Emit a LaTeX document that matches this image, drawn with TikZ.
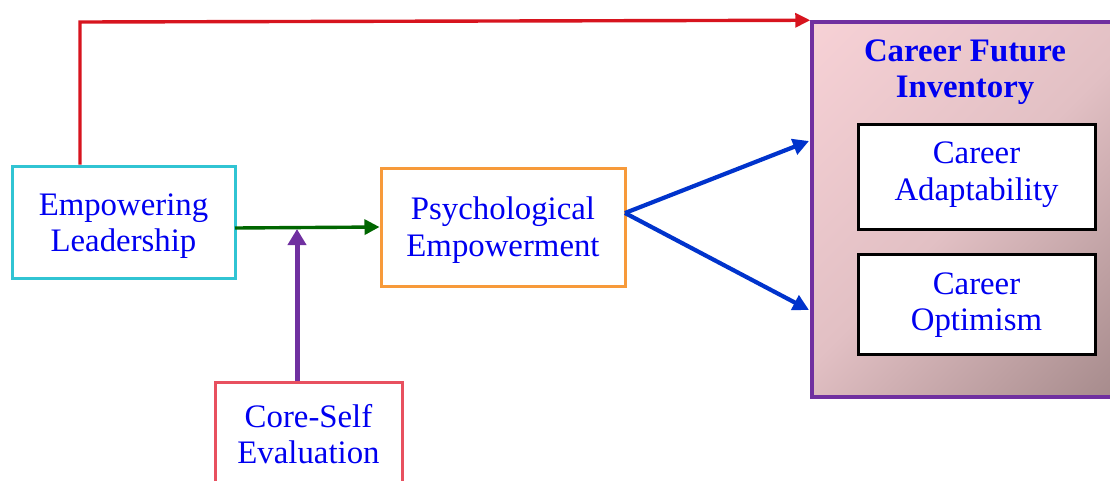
\documentclass[tikz,border=0pt]{standalone}
\usepackage{fontspec}
\setmainfont{Liberation Serif}
\usetikzlibrary{arrows.meta,calc}
\definecolor{txtblue}{HTML}{0000F0}
\definecolor{cyanb}{HTML}{31C4D3}
\definecolor{orangeb}{HTML}{F79A3A}
\definecolor{pinkb}{HTML}{E8505F}
\definecolor{redl}{HTML}{D7141E}
\definecolor{greenl}{HTML}{006600}
\definecolor{purplel}{HTML}{7030A0}
\definecolor{bluel}{HTML}{0033CC}
\definecolor{shadeA}{HTML}{FFD8DD}
\definecolor{shadeB}{HTML}{E2C0C4}
\definecolor{shadeC}{HTML}{917878}
\pgfdeclareverticalshading{cfishade}{100bp}{color(0bp)=(shadeC); color(12bp)=(shadeC!80!shadeB); color(50bp)=(shadeB); color(100bp)=(shadeA)}
\begin{document}
\begin{tikzpicture}[x=1pt,y=-1pt,
  lbl/.style={font=\fontsize{32.8}{36.5}\selectfont, text=txtblue, align=center, inner sep=0pt},
  box/.style={draw, fill=white, line width=3pt, inner sep=0pt},
  conn/.style={line width=3.4pt}]
\useasboundingbox (0,0) rectangle (1110,480);
% big box
\node[inner sep=0pt, minimum width=306pt, minimum height=375pt, shading=cfishade, shading angle=45, draw=purplel, line width=3.5pt] (CFI) at (965,209.5) {};
\node[lbl, font=\fontsize{32.8}{36}\selectfont\bfseries] (T) at ($(CFI.north)+(0,52)$) {Career Future\\Inventory};
\node[box, draw=black, minimum width=237pt, minimum height=105pt] (CA) at (976.5,176.5) {};
\node[lbl] (CAt) at ($(CA)+(0,-2)$) {Career\\Adaptability};
\node[box, draw=black, minimum width=237pt, minimum height=100pt] (CO) at (976.5,304) {};
\node[lbl] (COt) at ($(CO)+(0,1)$) {Career\\Optimism};
% left boxes
\node[box, draw=cyanb, minimum width=223pt, minimum height=112pt] (EL) at (123.5,222) {};
\node[lbl] (ELt) at ($(EL)+(0,4)$) {Empowering\\Leadership};
\node[box, draw=orangeb, minimum width=244pt, minimum height=118pt] (PE) at (503,227) {};
\node[lbl] (PEt) at ($(PE)+(0,3)$) {Psychological\\Empowerment};
\node[box, draw=pinkb, minimum width=187pt, minimum height=104pt] (CSE) at (308.5,434) {};
\node[lbl] (CSEt) at ($(CSE)+(0,0)$) {Core-Self\\Evaluation};
% coordinates
\coordinate (rt) at (80,22);
\coordinate (g1) at (235,228);
\coordinate (g2) at (297,228);
\coordinate (po) at (625,213);
\coordinate (b1) at (809,141);
\coordinate (b2) at (809,310);
% connectors
\draw[conn, redl, -{Triangle[length=15pt,width=14pt]}] (EL.north -| rt) -- (rt) -- (CFI.north west);
\draw[conn, greenl, -{Triangle[length=15pt,width=15pt]}] (g1) -- (PE.west |- 0,227);
\draw[line width=5pt, purplel, -{Triangle[length=16pt,width=18pt]}] (CSE.north -| g2) -- ($(g2)+(0,1)$);
\draw[line width=4.2pt, bluel, -{Triangle[length=16pt,width=16pt]}] (po) -- (b1);
\draw[line width=4.2pt, bluel, -{Triangle[length=16pt,width=16pt]}] (po) -- (b2);
\end{tikzpicture}
\end{document}
